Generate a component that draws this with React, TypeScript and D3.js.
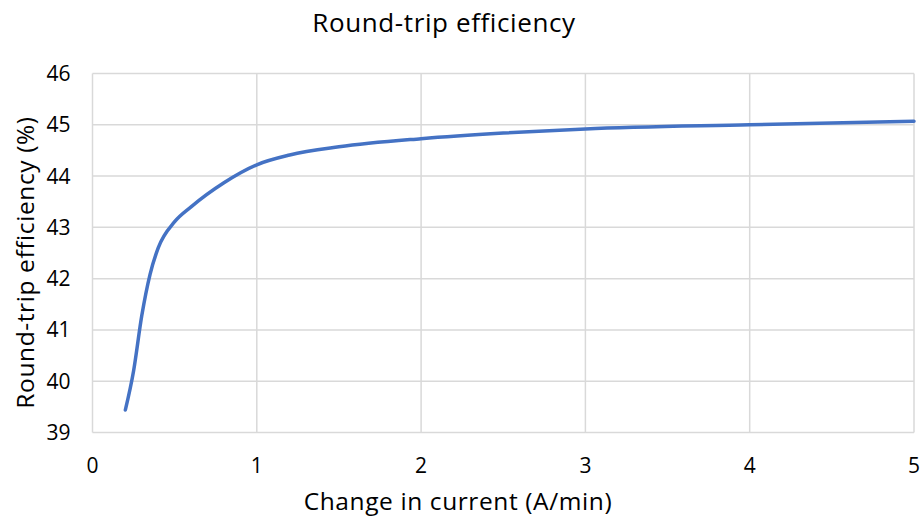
import React from "react";
import * as d3 from "d3";

// Round-trip efficiency vs. rate of change in current
const currentRate = [0.2, 0.25, 0.3, 0.35, 0.4, 0.5, 0.6, 0.8, 1.0, 1.2, 1.5, 2.0, 2.5, 3.0, 4.0, 5.0];
const efficiency = [39.44, 40.2, 41.28, 42.08, 42.6, 43.11, 43.4, 43.87, 44.22, 44.41, 44.57, 44.73, 44.84, 44.92, 45.0, 45.07];
const xTicks = [0, 1, 2, 3, 4, 5];
const yTicks = [39, 40, 41, 42, 43, 44, 45, 46];

const W = 921;
const H = 524;
const margin = { left: 92.5, right: 7, top: 73.5, bottom: 91.5 };
const FONT = "'Open Sans', 'Noto Sans', sans-serif";

export default function App() {
  const x = d3.scaleLinear().domain([0, 5]).range([margin.left, W - margin.right]);
  const y = d3.scaleLinear().domain([39, 46]).range([H - margin.bottom, margin.top]);

  const points: [number, number][] = currentRate.map((c, i) => [c, efficiency[i]]);
  const line = d3
    .line<[number, number]>()
    .x((d) => x(d[0]))
    .y((d) => y(d[1]))
    .curve(d3.curveMonotoneX);

  const plotBottom = y(39);
  const plotTop = y(46);

  return (
    <svg width={W} height={H} style={{ position: "absolute", left: 0, top: 0, background: "#fff" }}>
      <rect x={0} y={0} width={W} height={H} fill="#fff" />
      {/* gridlines */}
      {yTicks.map((t) => (
        <line key={"gy" + t} x1={x(0)} x2={x(5)} y1={y(t)} y2={y(t)} stroke="#d9d9d9" strokeWidth={1.5} />
      ))}
      {xTicks.map((t) => (
        <line key={"gx" + t} x1={x(t)} x2={x(t)} y1={plotTop} y2={plotBottom} stroke="#d9d9d9" strokeWidth={1.5} />
      ))}
      {/* tick labels */}
      {yTicks.map((t) => (
        <text key={"ly" + t} x={x(0) - 22} y={y(t) + 7.5} textAnchor="end" fontFamily={FONT} fontSize={21} fill="#000">
          {t}
        </text>
      ))}
      {xTicks.map((t) => (
        <text key={"lx" + t} x={x(t)} y={plotBottom + 40} textAnchor="middle" fontFamily={FONT} fontSize={21} fill="#000">
          {t}
        </text>
      ))}
      {/* series */}
      <path d={line(points) ?? ""} fill="none" stroke="#4472c4" strokeWidth={3.5} strokeLinecap="round" strokeLinejoin="round" />
      {/* titles */}
      <text x={444} y={31.5} textAnchor="middle" fontFamily={FONT} fontSize={26} letterSpacing={0.6} fill="#000">
        Round-trip efficiency
      </text>
      <text x={458} y={510} textAnchor="middle" fontFamily={FONT} fontSize={24.5} letterSpacing={0.6} fill="#000">
        Change in current (A/min)
      </text>
      <text
        transform={`translate(33.5, 262.5) rotate(-90)`}
        textAnchor="middle"
        fontFamily={FONT}
        fontSize={24.5}
        letterSpacing={0.6}
        fill="#000"
      >
        Round-trip efficiency (%)
      </text>
    </svg>
  );
}
